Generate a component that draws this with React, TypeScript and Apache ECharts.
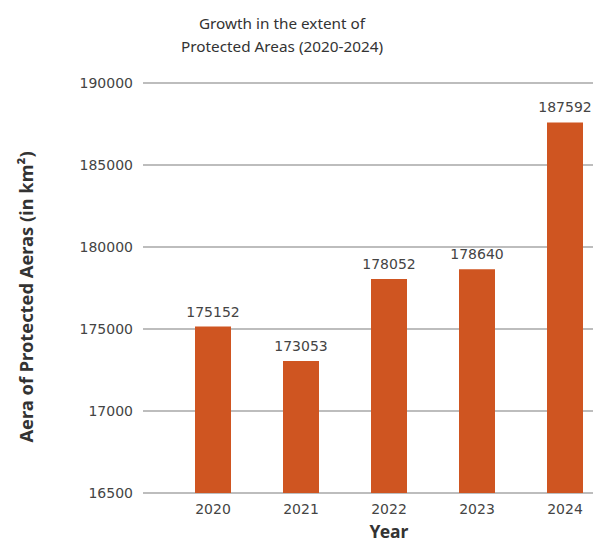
import React, { useEffect, useRef } from "react";
import * as echarts from "echarts";

const years = ["2020", "2021", "2022", "2023", "2024"];
const areas = [175152, 173053, 178052, 178640, 187592];
const yTickValues = [165000, 170000, 175000, 180000, 185000, 190000];
const yTickLabels = ["16500", "17000", "175000", "180000", "185000", "190000"];

const FONT = "'Noto Sans', sans-serif";
const NUM_FONT = "'DejaVu Sans', sans-serif";

export default function App() {
  const ref = useRef<HTMLDivElement>(null);
  useEffect(() => {
    if (!ref.current) return;
    const chart = echarts.init(ref.current, undefined, { renderer: "svg" });
    const yMin = yTickValues[0];
    const yMax = yTickValues[yTickValues.length - 1];
    chart.setOption({
      animation: false,
      textStyle: { fontFamily: FONT },
      title: {
        text: "Growth in the extent of\nProtected Areas (2020-2024)",
        left: 277,
        textAlign: "center",
        top: 6,
        textStyle: { fontFamily: FONT, fontSize: 15.3, fontWeight: "normal", color: "#333", lineHeight: 23 },
      },
      grid: [
        { left: 143, right: 0, top: 83, bottom: 48, outerBoundsMode: "none", containLabel: false },
        { left: 169, right: -16, top: 83, bottom: 48, outerBoundsMode: "none", containLabel: false },
      ],
      xAxis: [
        { type: "category", gridIndex: 0, data: years, show: false },
        {
          type: "category",
          gridIndex: 1,
          data: years,
          axisLine: { show: false },
          axisTick: { show: false },
          axisLabel: { fontFamily: NUM_FONT, fontSize: 14, color: "#444", margin: 8, lineHeight: 16 },
          name: "Year",
          nameLocation: "middle",
          nameGap: 29,
          nameMoveOverlap: false,
          nameTextStyle: { fontFamily: FONT, fontSize: 17.5, fontWeight: "bold", color: "#333", lineHeight: 17 },
        },
      ],
      yAxis: [
        {
          type: "value",
          gridIndex: 0,
          min: yMin,
          max: yMax,
          interval: 5000,
          axisLine: { show: false },
          axisTick: { show: false },
          splitLine: { lineStyle: { color: "#bdbdbd", width: 2 } },
          axisLabel: {
            fontFamily: NUM_FONT,
            fontSize: 14,
            color: "#444",
            margin: 10,
            formatter: (v: number) => {
              const i = yTickValues.indexOf(v);
              return i >= 0 ? yTickLabels[i] : "";
            },
          },
          name: "Aera of Protected Aeras (in km²)",
          nameLocation: "middle",
          nameGap: 109,
          nameTextStyle: { fontFamily: FONT, fontSize: 18.3, fontWeight: "bold", color: "#333", padding: [0, 18, 0, 0] },
        },
        {
          type: "value",
          gridIndex: 1,
          min: yMin,
          max: yMax,
          interval: 5000,
          show: false,
          splitLine: { show: false },
        },
      ],
      series: [
        {
          type: "bar",
          xAxisIndex: 1,
          yAxisIndex: 1,
          data: areas,
          barWidth: 36,
          itemStyle: { color: "#CF5521" },
          label: {
            show: true,
            position: "top",
            distance: 8,
            fontFamily: NUM_FONT,
            fontSize: 14,
            color: "#444",
          },
        },
      ],
    });
    return () => chart.dispose();
  }, []);
  return <div ref={ref} style={{ width: 593, height: 541, position: "absolute", left: 0, top: 0 }} />;
}
